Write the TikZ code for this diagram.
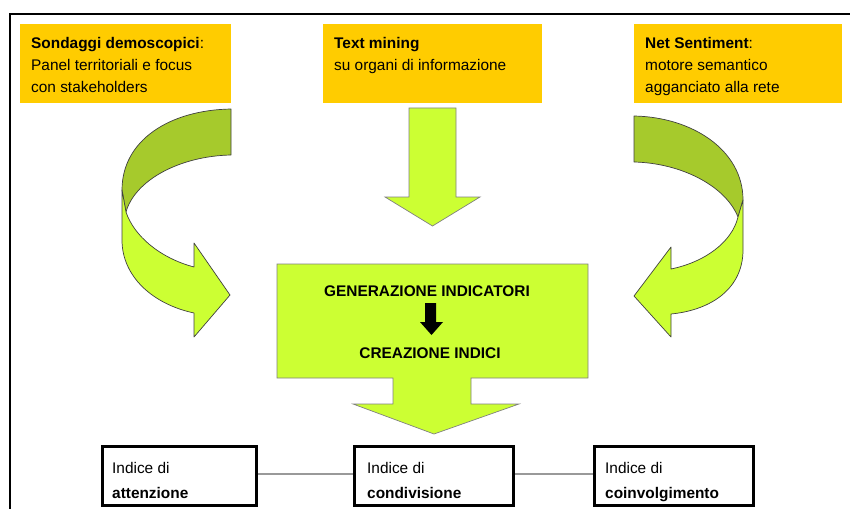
\documentclass[tikz,border=0pt]{standalone}
\usepackage{fontspec}
\setmainfont{Liberation Sans}
\definecolor{srcyellow}{HTML}{FFCC00}
\definecolor{lime}{HTML}{CCFF33}
\definecolor{olive}{RGB}{166,202,44}
\definecolor{linkgray}{HTML}{999999}
\begin{document}
\begin{tikzpicture}[x=1pt,y=-1pt,
  srcbox/.style={fill=srcyellow, inner sep=0pt, anchor=north west},
  srctext/.style={inner sep=0pt, anchor=north west, align=left,
    font=\fontsize{15.4}{22}\selectfont},
  midtext/.style={inner sep=0pt, anchor=base, font=\bfseries\fontsize{15.4}{18}\selectfont},
  idxbox/.style={draw=black, line width=3.3pt, fill=white, inner sep=0pt,
    minimum height=58.7pt},
  idxtext/.style={inner sep=0pt, anchor=north west, align=left,
    font=\fontsize{15.4}{25}\selectfont},
  band/.style={draw=black!75, line width=0.7pt, line join=round},
  block/.style={draw=black!50, line width=0.7pt, fill=lime},
  link/.style={draw=linkgray, line width=2pt}]
\path[use as bounding box] (0,0) rectangle (850,508);
\clip (0,0) rectangle (850,508);

% outer frame
\draw[line width=2pt] (860,13.7) -- (9.8,13.7) -- (9.8,520);

% source boxes
\node[srcbox, minimum width=211pt, minimum height=79pt] (s1) at (20,24) {};
\node[srcbox, minimum width=219pt, minimum height=79pt] (s2) at (323,24) {};
\node[srcbox, minimum width=208pt, minimum height=79pt] (s3) at (634,24) {};
\node[srctext] (t1) at (31,36.7) {\textbf{Sondaggi demoscopici}:\\Panel territoriali e focus\\con stakeholders};
\node[srctext] (t2) at (334,36.7) {\textbf{Text mining}\\su organi di informazione};
\node[srctext] (t3) at (645,36.7) {\textbf{Net Sentiment}:\\motore semantico\\agganciato alla rete};

% left curved arrow: back face, then front face with head
\path[band, fill=olive] (231,109) .. controls (170,110) and (122,140) .. (122,190)
  -- (126,212) .. controls (135,180) and (180,156) .. (231,155) -- cycle;
\path[band, fill=lime] (122,190) -- (122,240) .. controls (122,276) and (152,304) .. (194,313)
  -- (194,337) -- (230,295) -- (194,243) -- (194,267)
  .. controls (160,258) and (134,236) .. (126,212) -- cycle;

% right curved arrow
\path[band, fill=olive] (634,116) .. controls (692,117) and (743,150) .. (743,200)
  -- (738,217) .. controls (725,185) and (680,163) .. (634,162) -- cycle;
\path[band, fill=lime] (743,200) -- (743,250) .. controls (743,288) and (712,310) .. (671,314)
  -- (671,337) -- (634,296) -- (671,247) -- (671,269)
  .. controls (705,262) and (732,242) .. (738,217) -- cycle;

% straight arrow from the middle source
\path[block] (409,108) -- (456,108) -- (456,197) -- (480,197) -- (432.5,226)
  -- (385,197) -- (409,197) -- cycle;

% processing block with its outgoing arrow
\path[block] (277,264) -- (588,264) -- (588,378) -- (471,378) -- (471,404)
  -- (519,404) -- (434,434) -- (353,404) -- (393,404) -- (393,378)
  -- (277,378) -- cycle;
\node[midtext] (gen) at (427,296) {GENERAZIONE INDICATORI};
\node[midtext] (crea) at (430,358) {CREAZIONE INDICI};
\path[fill=black] (425,303) -- (436,303) -- (436,322) -- (443,322) -- (431.5,335)
  -- (420,322) -- (425,322) -- cycle;

% index boxes
\node[idxbox, minimum width=154pt] (b1) at (179.5,476) {};
\node[idxbox, minimum width=158.7pt] (b2) at (434,476) {};
\node[idxbox, minimum width=158.7pt] (b3) at (674,476) {};
\node[idxtext] (i1) at (112,461.8) {Indice di\\\textbf{attenzione}};
\node[idxtext] (i2) at (367,461.8) {Indice di\\\textbf{condivisione}};
\node[idxtext] (i3) at (605,461.8) {Indice di\\\textbf{coinvolgimento}};
\draw[link] ([yshift=2pt]b1.east) -- ([yshift=2pt]b2.west);
\draw[link] ([yshift=2pt]b2.east) -- ([yshift=2pt]b3.west);
\end{tikzpicture}
\end{document}
